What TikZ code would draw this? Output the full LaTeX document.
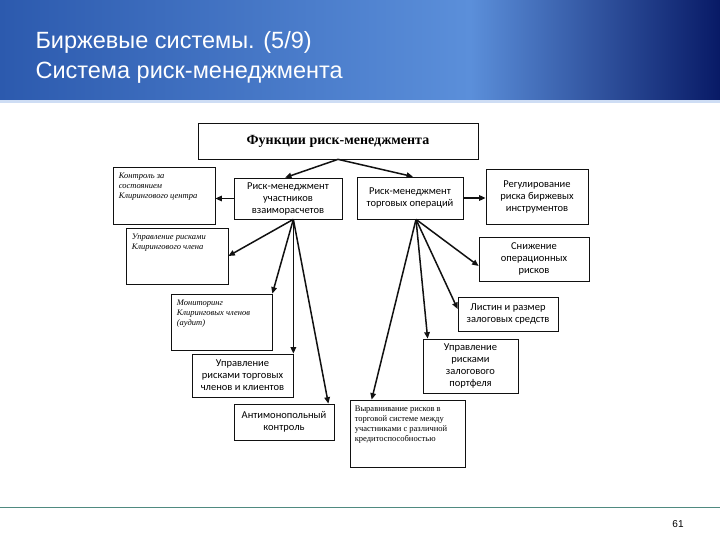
\documentclass[tikz,border=0pt]{standalone}
\usepackage{fontspec}
\setmainfont{Carlito}
\newfontfamily\hdfont{Liberation Sans}
\newfontfamily\srffont{Liberation Serif}
\usetikzlibrary{arrows.meta,calc,positioning}
\definecolor{hdleft}{HTML}{2C5AAE}
\definecolor{hdmid}{HTML}{5B8FDA}
\definecolor{hdright}{HTML}{081A66}
\definecolor{ink}{HTML}{111111}
\definecolor{rulec}{HTML}{4F8A80}
\tikzset{
  >={Triangle[length=6.5pt,width=5.5pt]},
  fbox/.style={draw=ink,line width=0.7pt,fill=white,align=center,inner sep=2pt,font=\fontsize{10.5}{12}\selectfont},
  ibox/.style={draw=ink,line width=0.7pt,fill=white},
  lab/.style={anchor=north west,align=left,inner sep=0pt,xshift=6pt,yshift=-6pt,font=\srffont\itshape\fontsize{8.5}{10}\selectfont},
  link/.style={->,line width=1.5pt,draw=ink},
}
\begin{document}
\begin{tikzpicture}[x=1pt,y=-1pt]
  \useasboundingbox (0,0) rectangle (720,540);
  % header band
  \shade[left color=hdleft,right color=hdmid] (0,0) rectangle (470,100);
  \shade[left color=hdmid,right color=hdright] (470,0) rectangle (720,100);
  \fill[hdmid!30] (0,100) rectangle (720,103);
  \node[anchor=west,align=left,text=white,font=\hdfont\fontsize{23.5}{30}\selectfont] (title) at (32,57)
    {Биржевые системы. (5/9)\\Система риск-менеджмента};
  % boxes
  \node[fbox,minimum width=280,minimum height=36,font=\srffont\bfseries\fontsize{14}{16}\selectfont] (top) at (338,141) {Функции риск-менеджмента};
  \node[ibox,minimum width=102,minimum height=57,label={[lab]north west:{Контроль за\\состоянием\\Клирингового центра}}] (kontrol) at (164,195.5) {};
  \node[fbox,minimum width=108,minimum height=41] (rmu) at (288,198.5) {Риск-менеджмент\\участников\\взаиморасчетов};
  \node[fbox,minimum width=106,minimum height=42] (rmt) at (410,198) {Риск-менеджмент\\торговых операций};
  \node[fbox,minimum width=102,minimum height=55] (reg) at (537,196.5) {Регулирование\\риска биржевых\\инструментов};
  \node[ibox,minimum width=102,minimum height=56,label={[lab]north west:{Управление рисками\\Клирингового члена}}] (upk) at (177,256) {};
  \node[fbox,minimum width=110,minimum height=44] (snz) at (534,259) {Снижение\\операционных\\рисков};
  \node[ibox,minimum width=101,minimum height=56,label={[lab]north west:{Мониторинг\\Клиринговых членов\\(аудит)}}] (mon) at (221.5,322) {};
  \node[fbox,minimum width=100,minimum height=34] (lst) at (508,314) {Листин и размер\\залоговых средств};
  \node[fbox,minimum width=101,minimum height=43] (utc) at (242.5,375.5) {Управление\\рисками торговых\\членов и клиентов};
  \node[fbox,minimum width=95,minimum height=54] (upz) at (470.5,366) {Управление\\рисками\\залогового\\портфеля};
  \node[fbox,minimum width=100,minimum height=36] (anti) at (284,422) {Антимонопольный\\контроль};
  \node[ibox,minimum width=115,minimum height=67,label={[lab,xshift=-1pt,font=\srffont\fontsize{8.5}{10}\selectfont]north west:{Выравнивание рисков в\\торговой системе между\\участниками с различной\\кредитоспособностью}}] (vyr) at (407.5,433.5) {};
  % connectors
  \coordinate (fanL) at (utc.north east |- rmu.south);
  \coordinate (fanR) at ([xshift=6pt]rmt.south);
  \draw[link] (top.south) -- ([xshift=-3pt]rmu.north);
  \draw[link] (top.south) -- ([xshift=3pt]rmt.north);
  \draw[link] (rmu.west) -- (rmu.west -| kontrol.east);
  \draw[link] (rmt.east) -- (rmt.east -| reg.west);
  \draw[link] (fanL) -- (upk.east);
  \draw[link] (fanL) -- (mon.north east);
  \draw[link] (fanL) -- (utc.north east);
  \draw[link] (fanL) -- ([xshift=-6pt]anti.north east);
  \draw[link] (fanR) -- ([yshift=-7pt]snz.west);
  \draw[link] (fanR) -- ([yshift=5pt]lst.west);
  \draw[link] (fanR) -- ([xshift=5pt]upz.north west);
  \draw[link] (fanR) -- ([xshift=22pt]vyr.north west);
  % footer
  \draw[rulec,line width=0.8pt] (0,507) -- (720,507);
  \node[font=\hdfont\fontsize{10}{10}\selectfont] (pnum) at (678,524) {61};
\end{tikzpicture}
\end{document}
